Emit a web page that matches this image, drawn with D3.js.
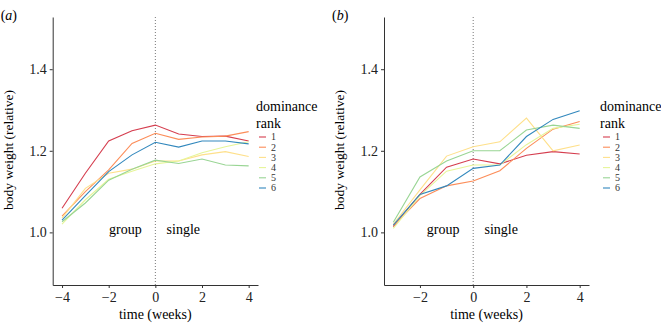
<!DOCTYPE html>
<html lang="en">
  <head>
    <meta charset="UTF-8" />
    <title>Body weight by dominance rank</title>
    <script src="https://d3js.org/d3.v7.min.js"></script>
    <style>
      body {
        margin: 0;
        background: #fff;
      }
      svg text {
        font-family: "Liberation Serif", "DejaVu Serif", serif;
      }
      .line {
        fill: none;
        stroke-width: 1.1;
      }
      .axis .domain,
      .axis line {
        stroke: #333;
      }
      .axis text {
        font-size: 14px;
        fill: #222;
      }
    </style>
  </head>
  <body>
    <svg width="661" height="325" id="chart" font-family="Liberation Serif"></svg>

    <script>
      // data
      const weeksA = [-4, -3, -2, -1, 0, 1, 2, 3, 4];
      const weeksB = [-3, -2, -1, 0, 1, 2, 3, 4];
      const ranks = ["1", "2", "3", "4", "5", "6"];
      const rankColors = ["#d53e4f", "#fc8d59", "#fee08b", "#e6f598", "#99d594", "#3288bd"];
      const yTicks = [1.0, 1.2, 1.4];

      // panel (a): one array per rank
      const weightA = [
        [1.059, 1.145, 1.224, 1.249, 1.263, 1.241, 1.235, 1.236, 1.224],
        [1.040, 1.100, 1.153, 1.218, 1.243, 1.228, 1.234, 1.236, 1.247],
        [1.035, 1.108, 1.145, 1.155, 1.175, 1.175, 1.190, 1.198, 1.186],
        [1.020, 1.080, 1.130, 1.150, 1.168, 1.175, 1.195, 1.210, 1.222],
        [1.026, 1.072, 1.128, 1.155, 1.177, 1.169, 1.180, 1.165, 1.163],
        [1.030, 1.090, 1.149, 1.190, 1.221, 1.209, 1.224, 1.224, 1.217]
      ];

      // panel (b)
      const weightB = [
        [1.014, 1.093, 1.160, 1.180, 1.168, 1.189, 1.198, 1.192],
        [1.016, 1.083, 1.114, 1.126, 1.151, 1.206, 1.253, 1.272],
        [1.020, 1.104, 1.187, 1.210, 1.222, 1.280, 1.200, 1.214],
        [1.010, 1.090, 1.150, 1.165, 1.165, 1.215, 1.255, 1.265],
        [1.025, 1.136, 1.175, 1.200, 1.200, 1.251, 1.263, 1.255],
        [1.018, 1.093, 1.114, 1.157, 1.165, 1.235, 1.277, 1.298]
      ];

      const svg = d3.select("#chart");

      const plotTop = 17,
        plotBottom = 285;

      const yScale = d3.scaleLinear().domain([0.871, 1.528]).range([plotBottom, plotTop]);

      function drawPanel(opts) {
        const { left, right, xDomain, xTicks, weeks, values, tag, titleX, legendX } = opts;
        const g = svg.append("g");

        const xScale = d3.scaleLinear().domain(xDomain).range([left, right]);

        // dotted line at week 0
        g.append("line")
          .attr("x1", xScale(0))
          .attr("x2", xScale(0))
          .attr("y1", plotTop)
          .attr("y2", plotBottom)
          .attr("stroke", "#777")
          .attr("stroke-width", 1)
          .attr("stroke-dasharray", "1,2");

        const xAxis = d3
          .axisBottom(xScale)
          .tickValues(xTicks)
          .tickSize(3)
          .tickSizeOuter(0)
          .tickPadding(4)
          .tickFormat((d) => (d < 0 ? "\u2212" + Math.abs(d) : d));
        g.append("g")
          .attr("class", "axis")
          .attr("transform", `translate(0,${plotBottom})`)
          .call(xAxis)
          .attr("font-family", null);

        const yAxis = d3
          .axisLeft(yScale)
          .tickValues(yTicks)
          .tickSize(3)
          .tickSizeOuter(0)
          .tickPadding(3)
          .tickFormat(d3.format(".1f"));
        g.append("g")
          .attr("class", "axis")
          .attr("transform", `translate(${left},0)`)
          .call(yAxis)
          .attr("font-family", null);

        // lines
        const lineGen = d3
          .line()
          .x((d, i) => xScale(weeks[i]))
          .y((d) => yScale(d));

        values.forEach((series, i) => {
          g.append("path")
            .datum(series)
            .attr("class", "line")
            .attr("stroke", rankColors[i])
            .attr("d", lineGen);
        });

        // phase labels
        g.append("text")
          .attr("x", xScale(0) - 30)
          .attr("y", yScale(1.0) + 2)
          .attr("text-anchor", "middle")
          .attr("font-size", 14)
          .text("group");
        g.append("text")
          .attr("x", xScale(0) + 28)
          .attr("y", yScale(1.0) + 2)
          .attr("text-anchor", "middle")
          .attr("font-size", 14)
          .text("single");

        // axis titles
        g.append("text")
          .attr("x", (left + right) / 2)
          .attr("y", 319)
          .attr("text-anchor", "middle")
          .attr("font-size", 14)
          .text("time (weeks)");
        g.append("text")
          .attr("transform", `translate(${titleX},150) rotate(-90)`)
          .attr("text-anchor", "middle")
          .attr("font-size", 13.5)
          .text("body weight (relative)");

        // panel tag
        const tagText = g.append("text").attr("x", left - 52).attr("y", 20).attr("font-size", 14);
        tagText.append("tspan").text("(");
        tagText.append("tspan").attr("font-style", "italic").text(tag);
        tagText.append("tspan").text(")");

        // legend
        g.append("text")
          .attr("x", legendX)
          .attr("y", 111)
          .attr("font-size", 14)
          .text("dominance");
        g.append("text")
          .attr("x", legendX)
          .attr("y", 128)
          .attr("font-size", 14)
          .text("rank");

        ranks.forEach((r, i) => {
          const ly = 137 + i * 10.2;
          g.append("line")
            .attr("x1", legendX + 3)
            .attr("x2", legendX + 10)
            .attr("y1", ly)
            .attr("y2", ly)
            .attr("stroke", rankColors[i])
            .attr("stroke-width", 1.1);
          g.append("text")
            .attr("x", legendX + 15)
            .attr("y", ly + 3.3)
            .attr("font-size", 10)
            .attr("fill", "#333")
            .text(r);
        });
      }

      drawPanel({
        left: 52.7,
        right: 258,
        xDomain: [-4.4, 4.4],
        xTicks: [-4, -2, 0, 2, 4],
        weeks: weeksA,
        values: weightA,
        tag: "a",
        titleX: 13,
        legendX: 256
      });

      drawPanel({
        left: 384,
        right: 589,
        xDomain: [-3.35, 4.35],
        xTicks: [-2, 0, 2, 4],
        weeks: weeksB,
        values: weightB,
        tag: "b",
        titleX: 344,
        legendX: 600
      });
    </script>
  </body>
</html>
